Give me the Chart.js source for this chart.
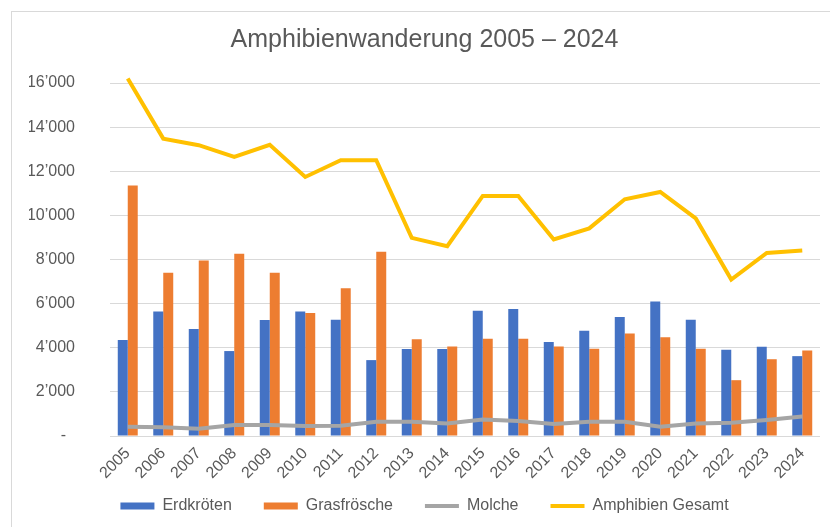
<!DOCTYPE html>
<html>
<head>
<meta charset="utf-8">
<script src="https://cdn.jsdelivr.net/npm/chart.js@4/dist/chart.umd.min.js"></script>
<style>
  html, body { margin: 0; padding: 0; background: #fff; overflow: hidden; }
  #frame {
    position: absolute; left: 11px; top: 11px;
    width: 825px; height: 540px;
    border: 1px solid #d9d9d9;
  }
  canvas { display: block; }
</style>
</head>
<body>
<div id="frame"><canvas id="chart" width="825" height="530"></canvas></div>
<script>
// data
const years = ["2005", "2006", "2007", "2008", "2009", "2010", "2011", "2012", "2013", "2014",
  "2015", "2016", "2017", "2018", "2019", "2020", "2021", "2022", "2023", "2024"];
const erdkroeten = [4350, 5640, 4850, 3850, 5260, 5640, 5270, 3440, 3940, 3940,
  5680, 5760, 4260, 4770, 5390, 6100, 5270, 3910, 4050, 3620];
const grasfroesche = [11350, 7400, 7950, 8260, 7400, 5580, 6700, 8350, 4380, 4060,
  4410, 4410, 4060, 3950, 4650, 4480, 3950, 2530, 3480, 3880];
const molche = [420, 400, 330, 500, 500, 450, 470, 650, 650, 570,
  750, 680, 545, 650, 650, 420, 570, 600, 730, 880];
const gesamt = [16200, 13480, 13180, 12650, 13200, 11740, 12500, 12500, 8980, 8600,
  10880, 10880, 8910, 9410, 10730, 11060, 9860, 7090, 8300, 8410];
const yTickLabels = ["-  ", "2’000", "4’000", "6’000", "8’000", "10’000", "12’000", "14’000", "16’000"];

const colors = ["#4472C4", "#ED7D31", "#A5A5A5", "#FFC000"];
const textColor = "#595959";
const gridColor = "#d9d9d9";
const font = "'Liberation Sans', Arial, Helvetica, sans-serif";

// the legend sits partly over the empty lower part of the rotated year labels
const legendLift = {
  id: "legendLift",
  afterLayout(chart) {
    chart.legend.top -= 18;
    chart.legend.bottom -= 18;
  },
};

const ctx = document.getElementById("chart").getContext("2d");

new Chart(ctx, {
  data: {
    labels: years,
    datasets: [
      {
        type: "bar",
        label: "Erdkröten",
        data: erdkroeten,
        backgroundColor: colors[0],
        categoryPercentage: 0.5625,
        barPercentage: 1,
        order: 2,
      },
      {
        type: "bar",
        label: "Grasfrösche",
        data: grasfroesche,
        backgroundColor: colors[1],
        categoryPercentage: 0.5625,
        barPercentage: 1,
        order: 2,
      },
      {
        type: "line",
        label: "Molche",
        data: molche,
        borderColor: colors[2],
        backgroundColor: colors[2],
        borderWidth: 4,
        pointRadius: 0,
        tension: 0,
        order: 1,
      },
      {
        type: "line",
        label: "Amphibien Gesamt",
        data: gesamt,
        borderColor: colors[3],
        backgroundColor: colors[3],
        borderWidth: 4,
        pointRadius: 0,
        tension: 0,
        clip: false, // 2005 value pokes above the 16'000 line
        order: 1,
      },
    ],
  },
  plugins: [legendLift],
  options: {
    responsive: false,
    animation: false,
    layout: { padding: { left: 17, right: 17, top: 0, bottom: 0 } },
    plugins: {
      tooltip: { enabled: false },
      title: {
        display: true,
        text: "Amphibienwanderung 2005 – 2024",
        color: textColor,
        font: { family: font, size: 25, weight: "normal" },
        padding: { top: 13, bottom: 28 },
      },
      legend: {
        position: "bottom",
        align: "center",
        labels: {
          color: textColor,
          font: { family: font, size: 16 },
          usePointStyle: true,
          pointStyleWidth: 34,
          boxHeight: 7,
          padding: 32,
          sort: (a, b) => a.datasetIndex - b.datasetIndex,
          generateLabels: (chart) =>
            Chart.defaults.plugins.legend.labels.generateLabels(chart).map((l) => {
              const isLine = chart.data.datasets[l.datasetIndex].type === "line";
              l.pointStyle = isLine ? "line" : "rect";
              l.lineWidth = isLine ? 4 : 0;
              l.fillStyle = colors[l.datasetIndex];
              l.strokeStyle = colors[l.datasetIndex];
              l.fontColor = textColor;
              return l;
            }),
        },
      },
    },
    scales: {
      x: {
        grid: { display: false },
        border: { display: false },
        ticks: {
          color: textColor,
          font: { family: font, size: 16 },
          minRotation: 45,
          maxRotation: 45,
          padding: 0,
        },
        afterFit: (axis) => {
          axis.height = 48;
        },
      },
      y: {
        min: 0,
        max: 16000,
        grid: { color: gridColor, lineWidth: 1, drawTicks: false },
        border: { display: false },
        ticks: {
          stepSize: 2000,
          color: textColor,
          font: { family: font, size: 16 },
          padding: 35,
          callback: (value, index) => yTickLabels[index],
        },
        afterFit: (axis) => {
          axis.width = 81;
        },
      },
    },
  },
});
</script>
</body>
</html>
